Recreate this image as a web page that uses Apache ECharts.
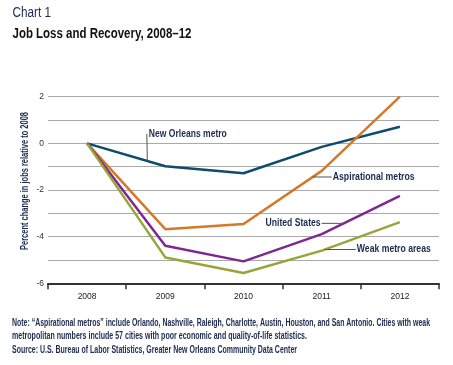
<!DOCTYPE html>
<html><head><meta charset="utf-8">
<script src="https://cdn.jsdelivr.net/npm/echarts@6/dist/echarts.min.js"></script>
<style>html,body{margin:0;padding:0;background:#fff}#c{width:453px;height:365px}</style>
</head><body><div id="c"></div>
<script>
var years = ['2008','2009','2010','2011','2012'];
var newOrleans = [0, -0.98, -1.28, -0.15, 0.71];
var aspirational = [0, -3.68, -3.46, -1.18, 2.0];
var unitedStates = [0, -4.39, -5.06, -3.89, -2.25];
var weakMetros = [0, -4.89, -5.56, -4.6, -3.38];
var yTickLabels = ['-6','-4','-2','0','2'];

var FONT = "'Liberation Sans', Arial, sans-serif";
var NAVY = '#1c2a4f';
var chart = echarts.init(document.getElementById('c'), null, {renderer:'canvas'});

function mkSeries(name, data, color){
  return {name:name, type:'line', data:data, symbol:'none', smooth:false,
    lineStyle:{color:color, width:2.5}, itemStyle:{color:color}, z:3};
}

chart.setOption({
  animation:false,
  grid:{left:48, right:14, top:96.7, bottom:81.7, containLabel:false},
  xAxis:{type:'category', data:years, boundaryGap:true,
    axisLine:{onZero:false, lineStyle:{color:'#333', width:2}},
    axisTick:{show:true, length:6, lineStyle:{color:'#333', width:1.5}},
    axisLabel:{color:'#222', fontFamily:FONT, fontSize:8.5, margin:9}},
  yAxis:{type:'value', min:-6, max:2, interval:1,
    axisLine:{show:false}, axisTick:{show:false},
    axisLabel:{color:'#333', fontFamily:FONT, fontSize:8.5, margin:4,
      formatter:function(v){ var s=String(v); return yTickLabels.indexOf(s)>=0 ? s : ''; }},
    splitLine:{lineStyle:{color:'#aaa', width:1.2}}},
  series:[
    mkSeries('New Orleans metro', newOrleans, '#0e4c6e'),
    mkSeries('Aspirational metros', aspirational, '#d4782a'),
    mkSeries('United States', unitedStates, '#80278f'),
    mkSeries('Weak metro areas', weakMetros, '#98a53b')
  ]
});

var ctx = document.createElement('canvas').getContext('2d');
function fitText(text, font, targetW){
  ctx.font = font;
  var w = ctx.measureText(text).width;
  return w > 0 ? targetW / w : 1;
}
function txt(text, x, y, font, fill, targetW, align, rot){
  var s = fitText(text, font, targetW);
  var el = {type:'text', x:x, y:y, scaleX:s, originX:0, originY:0, z:10,
    style:{text:text, font:font, fill:fill, textAlign:align||'left', textVerticalAlign:'middle'}};
  if (rot) { el.rotation = rot; }
  return el;
}

function px(data, i){ return chart.convertToPixel({gridIndex:0}, [i, data[i]]); }
function along(data, i, t){
  var a = px(data, i), b = px(data, i+1);
  return [a[0]+(b[0]-a[0])*t, a[1]+(b[1]-a[1])*t];
}
var LF = 'bold 10.5px '+FONT;
var g = [];
function leader(p, q){
  g.push({type:'line', shape:{x1:p[0], y1:p[1], x2:q[0], y2:q[1]}, style:{stroke:'#555', lineWidth:1}, z:10});
}
var p1 = along(newOrleans, 0, 0.77);
leader(p1, [p1[0]-0.5, p1[1]-27]);
g.push(txt('New Orleans metro', p1[0]+1.5, p1[1]-27, LF, NAVY, 78, 'left'));
var p2 = along(aspirational, 2, 0.885);
leader(p2, [p2[0]+19, p2[1]]);
g.push(txt('Aspirational metros', p2[0]+20, p2[1], LF, NAVY, 82, 'left'));
var p3 = along(unitedStates, 3, 0.28);
leader(p3, [p3[0]-22, p3[1]]);
g.push(txt('United States', p3[0]-23, p3[1], LF, NAVY, 55, 'right'));
var p4 = along(weakMetros, 3, 0.04);
leader(p4, [p4[0]+31, p4[1]]);
g.push(txt('Weak metro areas', p4[0]+32, p4[1], LF, NAVY, 74, 'left'));

// y axis name
g.push(txt('Percent change in jobs relative to 2008', 25, 181, 'bold 10px '+FONT, NAVY, 138, 'center', Math.PI/2));

// titles and footnotes
g.push(txt('Chart 1', 12.5, 12.5, '15.5px '+FONT, NAVY, 38.5, 'left'));
g.push(txt('Job Loss and Recovery, 2008\u201312', 12.5, 34, 'bold 14px '+FONT, '#111', 179, 'left'));
var notes = [
  'Note: \u201cAspirational metros\u201d include Orlando, Nashville, Raleigh, Charlotte, Austin, Houston, and San Antonio. Cities with weak',
  'metropolitan numbers include 57 cities with poor economic and quality-of-life statistics.',
  'Source: U.S. Bureau of Labor Statistics, Greater New Orleans Community Data Center'
];
var noteW = [418, 295, 285];
var noteY = [323, 336.5, 350];
for (var k=0;k<notes.length;k++){
  g.push(txt(notes[k], 12, noteY[k], 'bold 10px '+FONT, NAVY, noteW[k], 'left'));
}
chart.setOption({graphic:g});
</script>
</body></html>
